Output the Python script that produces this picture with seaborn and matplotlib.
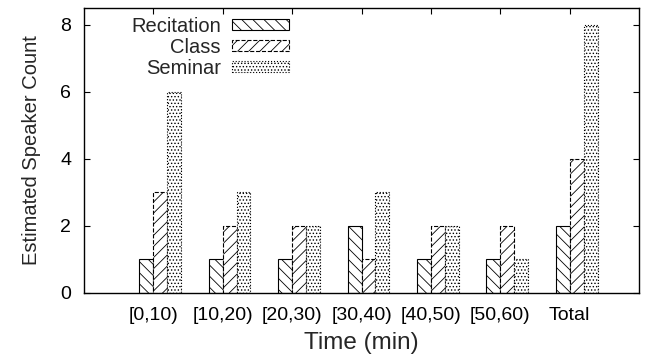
import pandas as pd
import seaborn as sns
import matplotlib.pyplot as plt

# values
periods = ["[0,10)", "[10,20)", "[20,30)", "[30,40)", "[40,50)", "[50,60)", "Total"]
recitation = [1, 1, 1, 2, 1, 1, 2]
class_ = [3, 2, 2, 1, 2, 2, 4]
seminar = [6, 3, 2, 3, 2, 1, 8]
series_names = ["Recitation", "Class", "Seminar"]

sns.set_style("ticks")
plt.rcParams['font.family'] = ['Liberation Sans', 'DejaVu Sans']
plt.rcParams['hatch.linewidth'] = 0.6
plt.rcParams['hatch.color'] = 'black'

df = pd.DataFrame({
    "period": periods * 3,
    "count": recitation + class_ + seminar,
    "kind": [n for n in series_names for _ in periods],
})

fig = plt.figure(figsize=(6.45, 3.58), dpi=100)
ax = fig.add_axes([0.130, 0.182, 0.861, 0.796])

sns.barplot(data=df, x="period", y="count", hue="kind", hue_order=series_names,
            order=periods, width=0.6, dodge=True, palette=["white"] * 3,
            edgecolor="black", linewidth=0.8, legend=False, ax=ax)

hatches = ["\\\\\\", "///", "....."]
styles = ["-", "--", ":"]
for cont, h, ls in zip(ax.containers, hatches, styles):
    for p in cont.patches:
        p.set_hatch(h)
        p.set_linestyle(ls)
        p.set_edgecolor("black")
        p.set_facecolor("white")

handles = [cont.patches[0] for cont in ax.containers]
ax.legend(handles, series_names, loc="upper right", bbox_to_anchor=(0.386, 1.0),
          frameon=False, markerfirst=False, fontsize=14.5, handlelength=2.85,
          handleheight=0.45, labelspacing=0.1, handletextpad=0.55, borderaxespad=0.05)

n = len(periods)
ax.set_xlim(-1.1, n - 0.1)
ax.set_ylim(0, 8.5)
ax.set_xticks([i - 0.1 for i in range(n)])
ax.set_xticklabels(periods)
ax.set_yticks([0, 2, 4, 6, 8])
ax.tick_params(direction="in", length=4, width=0.8, top=True, right=True,
               labelsize=14, colors="black")
ax.tick_params(axis="x", pad=10)
ax.tick_params(axis="y", pad=9)
for s in ax.spines.values():
    s.set_linewidth(1.0)
    s.set_color("black")

ax.set_xlabel("Time (min)", fontsize=17.5, labelpad=6)
ax.set_ylabel("Estimated Speaker Count", fontsize=14.5, labelpad=14)

fig.savefig("out.png", dpi=100)
